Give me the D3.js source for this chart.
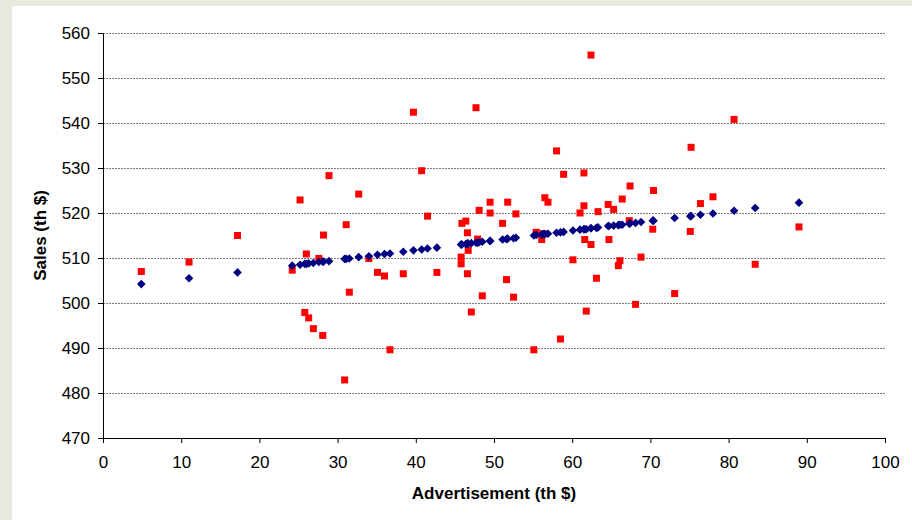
<!DOCTYPE html>
<html>
<head>
<meta charset="utf-8">
<script src="https://cdn.jsdelivr.net/npm/d3@7"></script>
<style>
  body { margin: 0; background: #e8e9de; }
  svg { display: block; font-family: "Liberation Sans", Arial, sans-serif; }
</style>
</head>
<body>
<div id="chart"></div>
<script>
// advertisement spend (th $), shared by both series
const advertisement = [
  4.9, 11.0, 17.2, 24.2, 25.2, 25.8, 26.0, 26.3, 26.9, 27.6, 28.1, 28.2, 28.9,
  30.9, 31.1, 31.5, 32.7, 34.0, 35.1, 36.0, 36.7, 38.4, 39.7, 40.75, 41.5, 42.7,
  45.8, 45.8, 45.9, 46.4, 46.6, 46.6, 46.7, 47.1, 47.7, 47.9, 48.1, 48.5, 49.5,
  49.5, 51.1, 51.6, 51.75, 52.5, 52.8, 55.1, 55.4, 56.1, 56.3, 56.5, 56.9, 58.0,
  58.5, 58.9, 60.1, 61.0, 61.5, 61.5, 61.6, 61.8, 62.4, 62.4, 63.1, 63.3, 64.6,
  64.7, 65.3, 65.9, 66.1, 66.4, 67.3, 67.4, 68.1, 68.8, 70.3, 70.4, 73.1, 75.1,
  75.2, 76.4, 78.0, 80.7, 83.4, 89.0
];

// observed sales (red squares)
const sales = [
  507.0, 509.1, 515.0, 507.3, 522.9, 497.9, 510.9, 496.7, 494.3, 509.9, 492.8, 515.1, 528.3,
  482.9, 517.4, 502.4, 524.2, 509.9, 506.8, 506.0, 489.6, 506.5, 542.4, 529.4, 519.3, 506.8,
  510.2, 508.7, 517.7, 518.2, 515.6, 506.5, 511.7, 498.0, 543.4, 514.2, 520.6, 501.6, 522.4,
  520.0, 517.7, 505.2, 522.4, 501.3, 519.8, 489.6, 515.7, 514.1, 515.4, 523.4, 522.4, 533.8,
  492.0, 528.6, 509.6, 520.0, 528.9, 521.6, 514.1, 498.2, 555.1, 513.0, 505.5, 520.3, 521.9,
  514.1, 520.8, 508.3, 509.4, 523.1, 518.3, 526.0, 499.7, 510.2, 516.4, 525.0, 502.1, 515.9,
  534.6, 522.1, 523.6, 540.8, 508.6, 516.9
];

// fitted sales (blue diamonds)
const predicted = [
  504.2, 505.5, 506.8, 508.3, 508.5, 508.7, 508.7, 508.8, 508.9, 509.1, 509.2, 509.2, 509.3,
  509.8, 509.8, 509.9, 510.2, 510.4, 510.7, 510.9, 511.0, 511.4, 511.7, 511.9, 512.1, 512.3,
  513.0, 513.0, 513.0, 513.1, 513.2, 513.2, 513.2, 513.3, 513.4, 513.4, 513.5, 513.6, 513.8,
  513.8, 514.1, 514.2, 514.3, 514.4, 514.5, 515.0, 515.1, 515.2, 515.3, 515.3, 515.4, 515.6,
  515.7, 515.8, 516.1, 516.3, 516.4, 516.4, 516.4, 516.4, 516.6, 516.6, 516.7, 516.8, 517.1,
  517.1, 517.2, 517.3, 517.4, 517.4, 517.6, 517.7, 517.8, 518.0, 518.3, 518.3, 518.9, 519.3,
  519.3, 519.6, 519.9, 520.5, 521.1, 522.3
];

const xTicks = [0, 10, 20, 30, 40, 50, 60, 70, 80, 90, 100];
const yTicks = [470, 480, 490, 500, 510, 520, 530, 540, 550, 560];

const width = 912, height = 520;
const margin = {top: 33, right: 27, bottom: 82, left: 103};
const w = width - margin.left - margin.right;
const h = height - margin.top - margin.bottom;

const svg = d3.select("#chart").append("svg")
  .attr("width", width)
  .attr("height", height);

// white chart panel over the beige frame
svg.append("rect")
  .attr("x", 12).attr("y", 6)
  .attr("width", width - 12).attr("height", height - 6)
  .attr("fill", "#fff");

const chart = svg.append("g")
  .attr("transform", `translate(${margin.left}, ${margin.top})`);

const x = d3.scaleLinear().domain([0, 100]).range([0, w]);
const y = d3.scaleLinear().domain([470, 560]).range([h, 0]);

// gridlines
chart.selectAll("line.grid")
  .data(yTicks.slice(1))
  .join("line")
  .attr("class", "grid")
  .attr("x1", 0).attr("x2", w)
  .attr("y1", d => Math.round(y(d)) + 0.5)
  .attr("y2", d => Math.round(y(d)) + 0.5)
  .attr("stroke", "#7c7c7c")
  .attr("stroke-dasharray", "2,1");

// axes
const xaxis = chart.append("g")
  .attr("transform", `translate(0, ${h})`)
  .call(d3.axisBottom(x).tickValues(xTicks).tickSize(5).tickPadding(13).tickSizeOuter(0));
const yaxis = chart.append("g")
  .call(d3.axisLeft(y).tickValues(yTicks).tickSize(5).tickPadding(8).tickSizeOuter(0));

[xaxis, yaxis].forEach(a => {
  a.select(".domain").attr("stroke", "#000");
  a.selectAll(".tick line").attr("stroke", "#000");
  a.selectAll("text")
    .attr("fill", "#000")
    .attr("font-size", "17px")
    .attr("font-family", "'Liberation Sans', Arial, sans-serif");
});

const pts = advertisement.map((a, i) => ({x: a, s: sales[i], p: predicted[i]}));

// red squares: observed
chart.selectAll("rect.obs")
  .data(pts)
  .join("rect")
  .attr("class", "obs")
  .attr("x", d => x(d.x) - 3.5)
  .attr("y", d => y(d.s) - 3.5)
  .attr("width", 7).attr("height", 7)
  .attr("fill", "#ff0000");

// blue diamonds: fitted
const r = 4.3;
chart.selectAll("path.fit")
  .data(pts)
  .join("path")
  .attr("class", "fit")
  .attr("d", d => {
    const cx = x(d.x), cy = y(d.p);
    return `M${cx},${cy - r}L${cx + r},${cy}L${cx},${cy + r}L${cx - r},${cy}Z`;
  })
  .attr("fill", "#000080");

// axis titles
svg.append("text")
  .attr("x", margin.left + x(50))
  .attr("y", 499)
  .attr("text-anchor", "middle")
  .attr("font-size", "17px")
  .attr("font-weight", "bold")
  .text("Advertisement (th $)");

svg.append("text")
  .attr("transform", `translate(46, ${margin.top + h / 2}) rotate(-90)`)
  .attr("text-anchor", "middle")
  .attr("font-size", "17px")
  .attr("font-weight", "bold")
  .text("Sales (th $)");
</script>
</body>
</html>
